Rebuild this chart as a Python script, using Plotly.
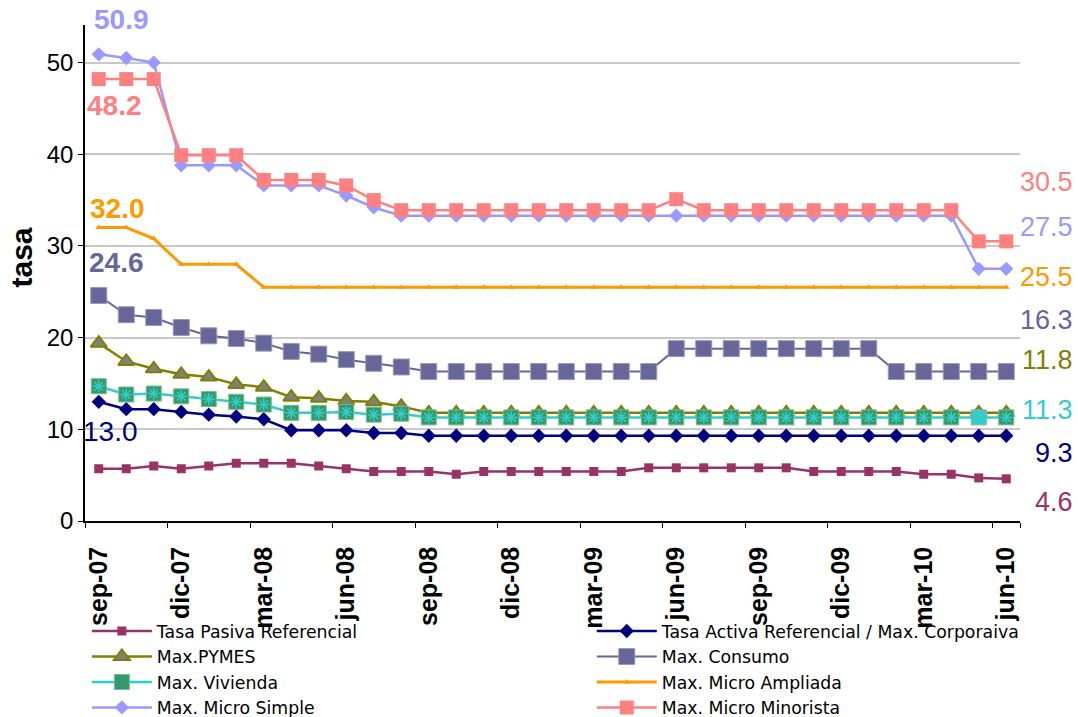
import plotly.graph_objects as go

# Monthly periods, Sep-2007 .. Jun-2010
months = ["sep-07", "oct-07", "nov-07", "dic-07", "ene-08", "feb-08", "mar-08", "abr-08",
          "may-08", "jun-08", "jul-08", "ago-08", "sep-08", "oct-08", "nov-08", "dic-08",
          "ene-09", "feb-09", "mar-09", "abr-09", "may-09", "jun-09", "jul-09", "ago-09",
          "sep-09", "oct-09", "nov-09", "dic-09", "ene-10", "feb-10", "mar-10", "abr-10",
          "may-10", "jun-10"]
tick_labels = months[::3]

pasiva = [5.7, 5.7, 6.0, 5.7, 6.0, 6.3, 6.3, 6.3, 6.0, 5.7, 5.4, 5.4, 5.4, 5.1, 5.4, 5.4,
          5.4, 5.4, 5.4, 5.4, 5.8, 5.8, 5.8, 5.8, 5.8, 5.8, 5.4, 5.4, 5.4, 5.4, 5.1, 5.1,
          4.7, 4.6]
activa = [13.0, 12.2, 12.2, 11.9, 11.6, 11.4, 11.1, 9.9, 9.9, 9.9, 9.6, 9.6] + [9.3] * 22
pymes = [19.4, 17.4, 16.6, 16.0, 15.7, 14.9, 14.6, 13.5, 13.4, 13.1, 13.0, 12.5] + [11.8] * 22
consumo = ([24.6, 22.5, 22.2, 21.1, 20.2, 19.9, 19.4, 18.5, 18.2, 17.6, 17.2, 16.8]
           + [16.3] * 9 + [18.8] * 8 + [16.3] * 5)
vivienda = [14.7, 13.8, 13.9, 13.6, 13.3, 13.0, 12.7, 11.8, 11.8, 11.9, 11.6, 11.7] + [11.3] * 22
ampliada = [32.0, 32.0, 30.8, 28.0, 28.0, 28.0] + [25.5] * 28
simple = [50.9, 50.5, 50.0, 38.8, 38.8, 38.8, 36.6, 36.6, 36.6, 35.5, 34.2] + [33.3] * 21 + [27.5, 27.5]
minorista = ([48.2, 48.2, 48.2, 39.9, 39.9, 39.9, 37.2, 37.2, 37.2, 36.6, 35.0]
             + [33.9] * 10 + [35.1] + [33.9] * 10 + [30.5, 30.5])

FONT = "Liberation Sans, Arial, sans-serif"
LEGEND_FONT = dict(family="DejaVu Sans, sans-serif", size=17.3, color="black")

fig = go.Figure()

fig.add_trace(go.Scatter(
    x=months, y=pasiva, name="Tasa Pasiva Referencial", mode="lines+markers",
    legend="legend",
    line=dict(color="#993366", width=2.5),
    marker=dict(symbol="square", size=9, color="#993366")))
fig.add_trace(go.Scatter(
    x=months, y=activa, name="Tasa Activa Referencial / Max. Corporaiva", mode="lines+markers",
    legend="legend2",
    line=dict(color="#000080", width=2.5),
    marker=dict(symbol="diamond", size=11, color="#000080")))
fig.add_trace(go.Scatter(
    x=months, y=pymes, name="Max.PYMES", mode="lines+markers",
    legend="legend",
    line=dict(color="#808000", width=2.5),
    marker=dict(symbol="triangle-up", size=14, color="#808080",
                line=dict(color="#808000", width=2))))
fig.add_trace(go.Scatter(
    x=months, y=consumo, name="Max. Consumo", mode="lines+markers",
    legend="legend2",
    line=dict(color="#666699", width=2),
    marker=dict(symbol="square", size=16, color="#666699",
                line=dict(color="#9999BB", width=1))))

# housing series: green squares, last-but-one point plain cyan
viv_colors = ["#339966"] * len(months)
viv_colors[32] = "#33CCCC"
fig.add_trace(go.Scatter(
    x=months, y=vivienda, name="Max. Vivienda", mode="lines+markers",
    legend="legend",
    line=dict(color="#33CCCC", width=2.5),
    marker=dict(symbol="square", size=15, color=viv_colors,
                line=dict(color="#6fbf99", width=1))))
fig.add_trace(go.Scatter(
    x=months, y=[v if i != 32 else None for i, v in enumerate(vivienda)],
    mode="markers", showlegend=False, hoverinfo="skip",
    marker=dict(symbol="asterisk-open", size=10, color="#33CCCC",
                line=dict(color="#33CCCC", width=1.5))))

fig.add_trace(go.Scatter(
    x=months, y=ampliada, name="Max. Micro Ampliada", mode="lines+markers",
    legend="legend2",
    line=dict(color="#FF9900", width=3),
    marker=dict(symbol="triangle-up", size=6, color="#FF9900")))
fig.add_trace(go.Scatter(
    x=months, y=simple, name="Max. Micro Simple", mode="lines+markers",
    legend="legend",
    line=dict(color="#9999FF", width=2.5),
    marker=dict(symbol="diamond", size=11, color="#9999FF")))
fig.add_trace(go.Scatter(
    x=months, y=minorista, name="Max. Micro Minorista", mode="lines+markers",
    legend="legend2",
    line=dict(color="#FF8080", width=2.5),
    marker=dict(symbol="square", size=14, color="#FF8080")))

# value labels: first period (left) and last period (right)
start_labels = [
    (simple[0], "#9999FF", 23, 35, True),
    (minorista[0], "#FF8080", 16, -26, True),
    (ampliada[0], "#FF9900", 19, 19, True),
    (consumo[0], "#666699", 18, 33, True),
    (activa[0], "#000080", 12, -30, False),
]
for val, col, dx, dy, bold in start_labels:
    txt = f"{val:.1f}"
    fig.add_annotation(
        x=months[0], y=val, text=f"<b>{txt}</b>" if bold else txt, showarrow=False,
        xshift=dx, yshift=dy, font=dict(family=FONT, size=28, color=col))

end_labels = [
    (minorista[-1], "#FF8080", 59),
    (simple[-1], "#9999FF", 42),
    (ampliada[-1], "#FF9900", 10),
    (consumo[-1], "#666699", 52),
    (pymes[-1], "#808000", 53),
    (vivienda[-1], "#33CCCC", 7),
    (activa[-1], "#000080", -17),
    (pasiva[-1], "#993366", -23),
]
for val, col, dy in end_labels:
    fig.add_annotation(
        x=months[-1], y=val, text=f"{val:.1f}", showarrow=False,
        xanchor="right", xshift=69, yshift=dy,
        font=dict(family=FONT, size=27, color=col))

# y-axis title
fig.add_annotation(
    xref="paper", yref="paper", x=-0.068, y=0.532, text="<b>tasa</b>",
    xanchor="center", yanchor="middle",
    textangle=-90, showarrow=False, font=dict(family=FONT, size=30, color="black"))

legend_common = dict(
    orientation="v", xanchor="left", y=-0.186, yanchor="top", itemwidth=60,
    traceorder="normal", bgcolor="rgba(0,0,0,0)", font=LEGEND_FONT)

fig.update_layout(
    width=1078, height=717,
    margin=dict(l=85, r=58, t=25, b=196, autoexpand=False),
    paper_bgcolor="white", plot_bgcolor="white",
    font=dict(family=FONT, color="black"),
    showlegend=True,
    legend=dict(x=0.002, **legend_common),
    legend2=dict(x=0.542, **legend_common),
)

fig.update_xaxes(
    type="category", categoryorder="array", categoryarray=months,
    range=[-0.5, len(months) - 0.5],
    tickmode="array", tickvals=tick_labels, ticktext=tick_labels,
    tickson="boundaries", ticks="outside", ticklen=5, tickcolor="black",
    tickangle=-90, ticklabelstandoff=14,
    tickfont=dict(family=FONT, size=25, color="black", weight="bold"),
    showline=True, linecolor="black", linewidth=1.5,
    showgrid=False, zeroline=False, automargin=False)

fig.update_yaxes(
    range=[0, 54.1], tickmode="array", tickvals=[0, 10, 20, 30, 40, 50],
    ticks="outside", ticklen=5, tickcolor="black",
    tickfont=dict(family=FONT, size=24, color="black"),
    showline=True, linecolor="black", linewidth=1.5,
    showgrid=True, gridcolor="#C8C8C8", gridwidth=1.5, zeroline=False,
    automargin=False)

fig.write_html("out.html")
